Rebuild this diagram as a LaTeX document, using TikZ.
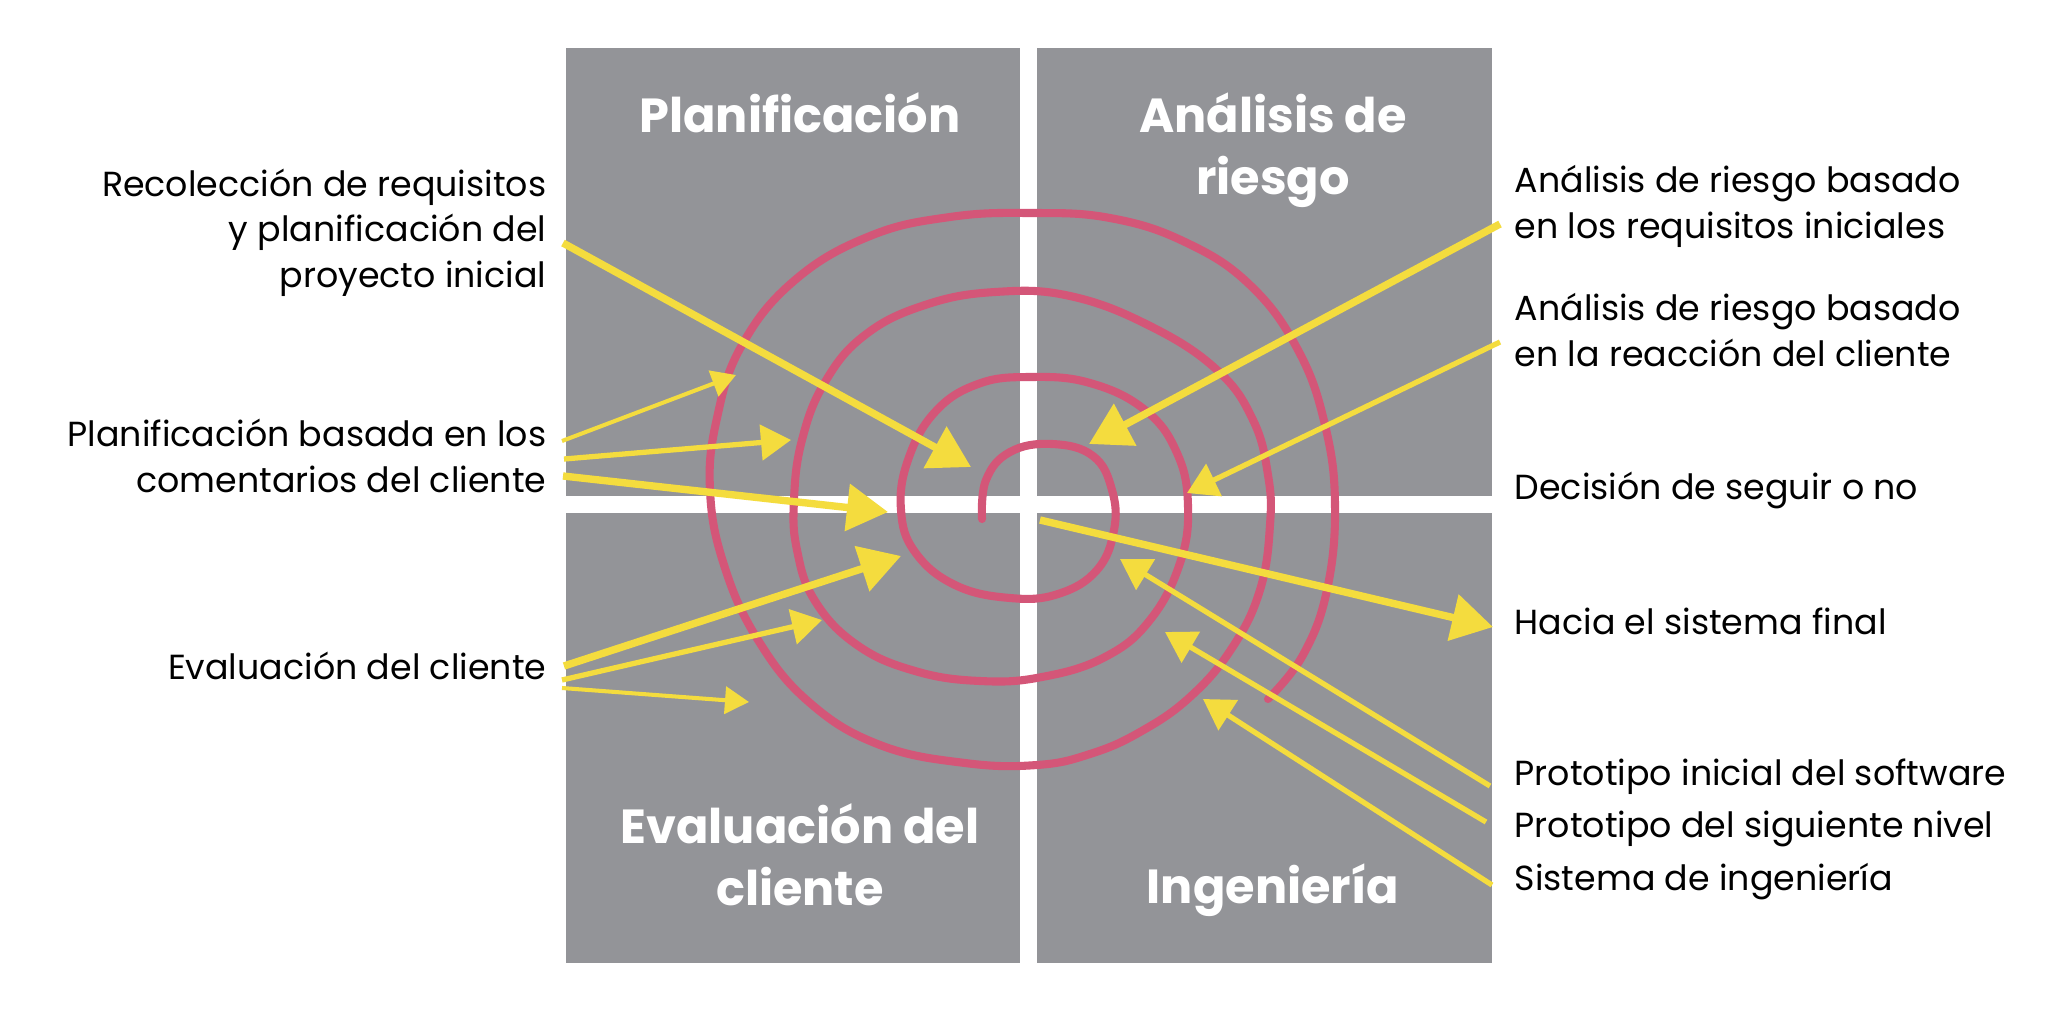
\documentclass[tikz,border=0pt]{standalone}
\usepackage{fontspec}
\setmainfont{Poppins}
\usetikzlibrary{arrows.meta,positioning,calc}
\definecolor{gris}{RGB}{147,148,152}
\definecolor{rosa}{RGB}{212,86,120}
\definecolor{amarillo}{RGB}{244,220,62}

\tikzset{
    cuadrante/.style={fill=gris, draw=none},
    titulo/.style={text=white, font=\fontsize{13.6}{17.6}\selectfont\bfseries, align=center, inner sep=0pt},
    etiqueta/.style={font=\fontsize{9.9}{12.8}\selectfont, inner sep=0pt},
    espiral/.style={draw=rosa, line width=2.3pt, line cap=round},
    flechaA/.style={draw=amarillo, line width=2.1pt, -{Triangle[length=0.41cm,width=0.46cm]}},
    flechaB/.style={draw=amarillo, line width=1.5pt, -{Triangle[length=0.30cm,width=0.35cm]}},
    flechaC/.style={draw=amarillo, line width=1.15pt, -{Triangle[length=0.24cm,width=0.27cm]}}
}

\begin{document}
\begin{tikzpicture}[x=0.01cm, y=-0.01cm]
    % page
    \fill[white] (0,0) rectangle (2048,1009);
    \useasboundingbox (0,0) rectangle (2048,1009);

    % Four quadrants
    \fill[cuadrante] (566,48) rectangle (1020,496);
    \fill[cuadrante] (1037,48) rectangle (1492,496);
    \fill[cuadrante] (566,513) rectangle (1020,963);
    \fill[cuadrante] (1037,513) rectangle (1492,963);

    % Quadrant titles (base = last line)
    \node[titulo, anchor=base] (tplan) at (800,132) {Planificación};
    \node[titulo, anchor=base] (tries) at (1273,194) {Análisis de\\riesgo};
    \node[titulo, anchor=base] (teval) at (800,905) {Evaluación del\\cliente};
    \node[titulo, anchor=base] (ting) at (1273,903) {Ingeniería};

    % Spiral
    \draw[espiral] plot[smooth, tension=0.7] coordinates {
        (982,519) (986,480) (1010,452) (1052,444)
        (1093,456) (1112,490) (1114,530) (1097,570) (1058,594)
        (1010,598) (955,585) (915,552) (901,510) (908,460)
        (935,412) (978,384) (1030,377) (1090,383)
        (1145,410) (1177,453) (1188,506) (1180,563) (1150,620) (1105,657)
        (1042,677) (980,681) (915,671) (857,645) (815,601) (797,550)
        (794,500) (802,440) (825,382) (865,335) (925,305) (995,292)
        (1070,296) (1150,326) (1217,370) (1253,420) (1268,475) (1270,525)
        (1260,590) (1232,648) (1190,697) (1140,732) (1090,754) (1037,765)
        (965,763) (880,745) (810,703) (758,640) (724,565) (710,490)
        (717,418) (742,345) (795,280) (870,236) (950,217) (1030,213)
        (1110,218) (1185,242) (1250,285) (1298,350) (1325,425) (1335,505)
        (1327,590) (1303,655) (1268,699)};

    % Left labels
    \node[etiqueta, anchor=base east, align=right] (lrec) at (547,287)
        {Recolección de requisitos\\y planificación del\\proyecto inicial};
    \node[etiqueta, anchor=base east, align=right] (lplan) at (547,492)
        {Planificación basada en los\\comentarios del cliente};
    \node[etiqueta, anchor=base east] (leval) at (547,679) {Evaluación del cliente};

    % Right labels
    \node[etiqueta, anchor=base west, align=left] (lries1) at (1514,238)
        {Análisis de riesgo basado\\en los requisitos iniciales};
    \node[etiqueta, anchor=base west, align=left] (lries2) at (1514,366)
        {Análisis de riesgo basado\\en la reacción del cliente};
    \node[etiqueta, anchor=base west] (ldec) at (1514,499) {Decisión de seguir o no};
    \node[etiqueta, anchor=base west] (lhacia) at (1514,634) {Hacia el sistema final};
    \node[etiqueta, anchor=base west] (lproto1) at (1514,785) {Prototipo inicial del software};
    \node[etiqueta, anchor=base west] (lproto2) at (1514,837) {Prototipo del siguiente nivel};
    \node[etiqueta, anchor=base west] (lsis) at (1514,890) {Sistema de ingeniería};

    % Arrow ends
    \coordinate (rec-s) at (563,243);   \coordinate (rec-t) at (971,467);
    \coordinate (plan1-s) at (562,441); \coordinate (plan1-t) at (736,375);
    \coordinate (plan2-s) at (564,459); \coordinate (plan2-t) at (791,440);
    \coordinate (com-s) at (563,476);   \coordinate (com-t) at (888,512);
    \coordinate (eval1-s) at (564,666); \coordinate (eval1-t) at (901,556);
    \coordinate (eval2-s) at (562,680); \coordinate (eval2-t) at (822,620);
    \coordinate (eval3-s) at (562,688); \coordinate (eval3-t) at (749,702);
    \coordinate (ries1-s) at (1500,224); \coordinate (ries1-t) at (1089,444);
    \coordinate (ries2-s) at (1500,342); \coordinate (ries2-t) at (1187,493);
    \coordinate (hacia-s) at (1040,520); \coordinate (hacia-t) at (1493,627);
    \coordinate (proto1-s) at (1490,786); \coordinate (proto1-t) at (1120,559);
    \coordinate (proto2-s) at (1486,822); \coordinate (proto2-t) at (1165,632);
    \coordinate (sis-s) at (1492,885);   \coordinate (sis-t) at (1203,699);

    % Arrows
    \foreach \a in {rec, com, eval1, ries1, hacia}
        \draw[flechaA] (\a-s) -- (\a-t);
    \foreach \a in {plan2, eval2, ries2, proto1, proto2, sis}
        \draw[flechaB] (\a-s) -- (\a-t);
    \foreach \a in {plan1, eval3}
        \draw[flechaC] (\a-s) -- (\a-t);

\end{tikzpicture}
\end{document}
